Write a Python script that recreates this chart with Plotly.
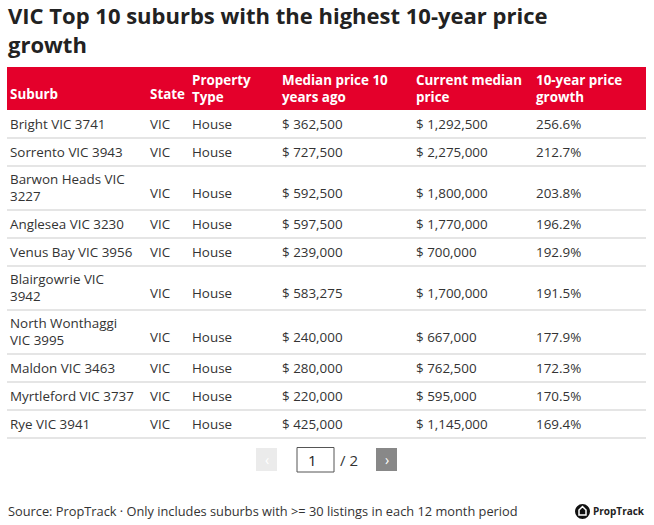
import plotly.graph_objects as go

# ---------------- data ----------------
title_text = "VIC Top 10 suburbs with the highest 10-year price growth"
columns = ["Suburb", "State", "Property Type", "Median price 10 years ago",
           "Current median price", "10-year price growth"]
suburbs = ["Bright VIC 3741", "Sorrento VIC 3943", "Barwon Heads VIC 3227",
           "Anglesea VIC 3230", "Venus Bay VIC 3956", "Blairgowrie VIC 3942",
           "North Wonthaggi VIC 3995", "Maldon VIC 3463", "Myrtleford VIC 3737",
           "Rye VIC 3941"]
states = ["VIC", "VIC", "VIC", "VIC", "VIC", "VIC", "VIC", "VIC", "VIC", "VIC"]
property_types = ["House", "House", "House", "House", "House",
                  "House", "House", "House", "House", "House"]
median_10y_ago = [362500, 727500, 592500, 597500, 239000,
                  583275, 240000, 280000, 220000, 425000]
current_median = [1292500, 2275000, 1800000, 1770000, 700000,
                  1700000, 667000, 762500, 595000, 1145000]
growth_10y = [256.6, 212.7, 203.8, 196.2, 192.9, 191.5, 177.9, 172.3, 170.5, 169.4]
source_note = "Source: PropTrack · Only includes suburbs with >= 30 listings in each 12 month period"
brand = "PropTrack"
current_page, total_pages = 1, 2

# ---------------- layout constants ----------------
W_PX, H_PX = 654, 525
FONT = "Open Sans"
BODY_SIZE = 13.4
HEAD_SIZE = 13.4
TEXT_COLOR = "#333333"
RED = "#e4002b"
SEP = "#dddddd"
TABLE_L, TABLE_R = 7, 646
col_edges = [7, 147, 189, 279, 413, 533, 646]
HEADER_TOP = 67
LINE_GAP = 15.5

# approximate glyph widths of the original font (per 1000 em) used for wrapping
GW = {" ": 260, "a": 580, "b": 640, "c": 560, "d": 640, "e": 590, "f": 350, "g": 640,
      "h": 640, "i": 260, "l": 260, "m": 940, "n": 640, "o": 610, "p": 640, "r": 390,
      "s": 490, "t": 390, "u": 640, "w": 880, "y": 550, "A": 700, "B": 690, "C": 700,
      "H": 770, "I": 300, "M": 880, "N": 770, "P": 660, "R": 680, "S": 610, "T": 600,
      "V": 720, "W": 1080, "1": 330, "-": 400}


def text_width(s, size, bold):
    return sum(GW.get(c, 600) for c in s) * size / 1000 * (1.08 if bold else 1.0)


def wrap(s, maxw, size=13, bold=False):
    lines, cur = [], ""
    for w in s.split(" "):
        cand = (cur + " " + w) if cur else w
        if cur and text_width(cand, size, bold) > maxw:
            lines.append(cur)
            cur = w
        else:
            cur = cand
    lines.append(cur)
    return lines


def money(v):
    return "$ {:,}".format(v)


rows = [[s, st, pt, money(a), money(b), "{:.1f}%".format(g)]
        for s, st, pt, a, b, g in zip(suburbs, states, property_types,
                                      median_10y_ago, current_median, growth_10y)]

fig = go.Figure()
shapes, annos = [], []


def add_row(cells, top, bold, color):
    wrapped = [wrap(c, col_edges[i + 1] - col_edges[i] - 10, bold=bold)
               for i, c in enumerate(cells)]
    n = max(len(w) for w in wrapped)
    for i, lines in enumerate(wrapped):
        m = len(lines)
        if m == n:
            y = top + 13.5 + LINE_GAP * (m - 1) / 2
        else:
            y = top + 13.5 + LINE_GAP * (n - 1) - 2
        txt = "<br>".join(("<b>%s</b>" % ln) if bold else ln for ln in lines)
        annos.append(dict(x=col_edges[i] + 1, y=y, xref="x", yref="y", text=txt,
                          showarrow=False, xanchor="left", yanchor="middle", align="left",
                          font=dict(family=FONT, size=HEAD_SIZE if bold else BODY_SIZE,
                                    color=color)))
    return n


# header
hn = max(len(wrap(c, col_edges[i + 1] - col_edges[i] - 10, bold=True)) for i, c in enumerate(columns))
header_h = 28 + 15 * (hn - 1)
shapes.append(dict(type="rect", xref="x", yref="y", x0=TABLE_L, x1=TABLE_R,
                   y0=HEADER_TOP, y1=HEADER_TOP + header_h, fillcolor=RED, line=dict(width=0),
                   layer="below"))
add_row(columns, HEADER_TOP, True, "white")

top = HEADER_TOP + header_h
for r in rows:
    n = add_row(r, top, False, TEXT_COLOR)
    top += 28 + 16 * (n - 1)
    shapes.append(dict(type="line", xref="x", yref="y", x0=TABLE_L, x1=TABLE_R,
                       y0=top, y1=top, line=dict(color=SEP, width=1.5)))

# pagination
pg_y0, pg_y1 = 448, 471
shapes.append(dict(type="rect", xref="x", yref="y", x0=256, x1=277, y0=pg_y0, y1=pg_y1,
                   fillcolor="#ebebeb", line=dict(width=0)))
shapes.append(dict(type="rect", xref="x", yref="y", x0=297, x1=334, y0=447.5, y1=472,
                   fillcolor="white", line=dict(color="#555555", width=1)))
shapes.append(dict(type="rect", xref="x", yref="y", x0=376, x1=397, y0=pg_y0, y1=pg_y1,
                   fillcolor="#888888", line=dict(width=0)))
annos += [
    dict(x=266.5, y=459.5, text="‹", font=dict(family=FONT, size=14, color="white")),
    dict(x=306, y=460, text=str(current_page), xanchor="left",
         font=dict(family=FONT, size=15, color="#222222")),
    dict(x=338, y=460, text="/ %d" % total_pages, xanchor="left",
         font=dict(family=FONT, size=15, color="#333333")),
    dict(x=386.5, y=459.5, text="›", font=dict(family=FONT, size=14, color="white")),
]

# footer
annos.append(dict(x=6, y=511, text=source_note, xanchor="left",
                  font=dict(family=FONT, size=12.8, color=TEXT_COLOR)))
shapes.append(dict(type="circle", xref="x", yref="y", x0=575, x1=590, y0=504, y1=519,
                   fillcolor="#111111", line=dict(width=0)))
shapes.append(dict(type="path", xref="x", yref="y",
                   path="M 579 515 L 579 510 L 582.5 506.5 L 586 510 L 586 515 Z",
                   line=dict(color="white", width=1.5), fillcolor="rgba(0,0,0,0)"))
annos.append(dict(x=591, y=511, text="<b>%s</b>" % brand, xanchor="left",
                  font=dict(family=FONT, size=10, color="#222222")))

# title
title_lines = wrap(title_text, 580, size=20, bold=True)
annos.append(dict(x=6, y=29.5, text="<br>".join("<b>%s</b>" % ln for ln in title_lines),
                  xanchor="left", yanchor="middle", align="left",
                  font=dict(family=FONT, size=22, color="#222222")))

for a in annos:
    a.setdefault("xref", "x")
    a.setdefault("yref", "y")
    a.setdefault("showarrow", False)
    a.setdefault("yanchor", "middle")

fig.update_layout(
    width=W_PX, height=H_PX, autosize=False,
    margin=dict(l=0, r=0, t=0, b=0),
    paper_bgcolor="white", plot_bgcolor="white",
    xaxis=dict(range=[0, W_PX], visible=False, fixedrange=True),
    yaxis=dict(range=[H_PX, 0], visible=False, fixedrange=True),
    shapes=shapes, annotations=annos, showlegend=False,
)
fig.write_html("out.html", config={"displayModeBar": False},
               post_script="document.body.style.margin='0';document.body.style.overflow='hidden';")
